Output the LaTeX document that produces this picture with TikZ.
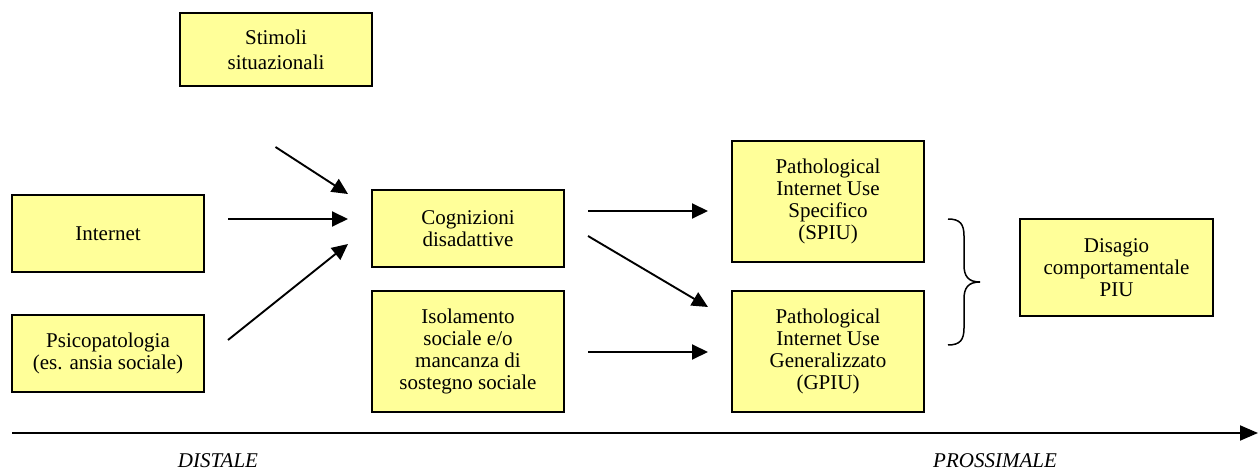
\documentclass[tikz,border=0pt]{standalone}
\usepackage{fontspec}
\setmainfont{Liberation Serif}
\usetikzlibrary{arrows.meta}
\definecolor{boxfill}{RGB}{255,255,153}
\tikzset{
  box/.style={draw=black, line width=1.9pt, fill=boxfill, align=center, inner sep=0pt,
    minimum width=192pt, font=\fontsize{21}{22}\selectfont},
  arr/.style={line width=1.9pt, -{Triangle[length=16pt,width=15pt]}},
  lbl/.style={font=\fontsize{21}{24}\selectfont\itshape, inner sep=0pt}
}
\begin{document}
\begin{tikzpicture}[x=1pt,y=-1pt]
\useasboundingbox (0,0) rectangle (1258,470);
\node[box, minimum height=73pt, font=\fontsize{21}{25}\selectfont] (stim) at (276,49.5) {Stimoli\\situazionali};
\node[box, minimum height=77pt] (int) at (108,233.5) {Internet};
\node[box, minimum height=77pt] (psi) at (108,353.5) {Psicopatologia\\(es. ansia sociale)};
\node[box, minimum height=77pt] (cog) at (468,228.5) {Cognizioni\\disadattive};
\node[box, minimum height=121pt] (iso) at (468,351.5) {Isolamento\\sociale e/o\\mancanza di\\sostegno sociale};
\node[box, minimum height=121pt] (spiu) at (828,201.5) {Pathological\\Internet Use\\Specifico\\(SPIU)};
\node[box, minimum height=121pt] (gpiu) at (828,351.5) {Pathological\\Internet Use\\Generalizzato\\(GPIU)};
\node[box, minimum width=193pt, minimum height=97pt] (dis) at (1116.5,267.5) {Disagio\\comportamentale\\PIU};

\coordinate (a1s) at (275.5,147); \coordinate (a1e) at (348,194);
\coordinate (a2s) at (228,219); \coordinate (a2e) at (348,219);
\coordinate (a3s) at (228,340); \coordinate (a3e) at (348,244);
\coordinate (b1s) at (588,211); \coordinate (b1e) at (708,211);
\coordinate (b2s) at (588,236); \coordinate (b2e) at (708,307);
\coordinate (b3s) at (588,352); \coordinate (b3e) at (708,352);
\draw[arr] (a1s) -- (a1e);
\draw[arr] (a2s) -- (a2e);
\draw[arr] (a3s) -- (a3e);
\draw[arr] (b1s) -- (b1e);
\draw[arr] (b2s) -- (b2e);
\draw[arr] (b3s) -- (b3e);

% brace
\draw[line width=1.5pt] (948,219) .. controls (960,219) and (964,224) .. (964,236)
  -- (964,265) .. controls (964,276) and (968,282) .. (980,282)
  .. controls (968,282) and (964,288) .. (964,299)
  -- (964,328) .. controls (964,340) and (960,345) .. (948,345);

% axis
\coordinate (ax0) at (12,433); \coordinate (ax1) at (1258,433);
\draw[line width=1.9pt, -{Triangle[length=18pt,width=15pt]}] (ax0) -- (ax1);
\node[lbl] (dist) at (218,461) {DISTALE};
\node[lbl] (pros) at (995,461) {PROSSIMALE};
\end{tikzpicture}
\end{document}
